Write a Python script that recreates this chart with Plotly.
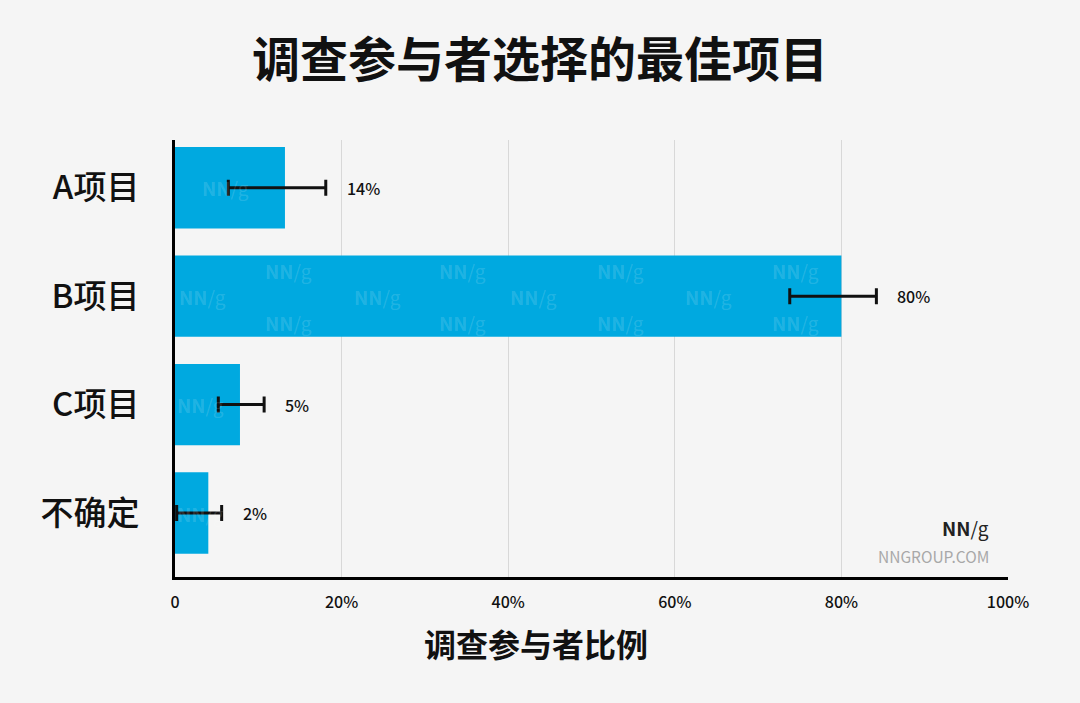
import plotly.graph_objects as go

# data
categories = ["A项目", "B项目", "C项目", "不确定"]
bar_values = [13.2, 80.0, 7.8, 4.0]
err_low = [6.4, 73.8, 5.2, 0.2]
err_high = [18.1, 84.2, 10.7, 5.6]
value_labels = ["14%", "80%", "5%", "2%"]

x_tickvals = [0, 20, 40, 60, 80, 100]
x_ticktext = ["0", "20%", "40%", "60%", "80%", "100%"]

title_text = "调查参与者选择的最佳项目"
x_title = "调查参与者比例"

BAR_COLOR = "#00a9e0"
BG = "#f5f5f5"
FONT = "Noto Sans CJK SC"
FONT_MED = "Noto Sans CJK SC Medium, Noto Sans CJK SC"

err_plus = [h - v for h, v in zip(err_high, bar_values)]
err_minus = [v - l for v, l in zip(bar_values, err_low)]

fig = go.Figure()
fig.add_trace(go.Bar(
    x=bar_values,
    y=categories,
    orientation="h",
    width=0.75,
    marker=dict(color=BAR_COLOR, line=dict(width=0)),
    error_x=dict(type="data", symmetric=False, array=err_plus,
                 arrayminus=err_minus, color="#111111",
                 thickness=3, width=8),
    hoverinfo="skip",
))

# percentage labels to the right of the error bars
for cat, hi, lab in zip(categories, err_high, value_labels):
    fig.add_annotation(x=hi, y=cat, text=lab, showarrow=False,
                       xanchor="left", xshift=19,
                       font=dict(family=FONT_MED, size=16, color="#111111"))

# faint NN/g watermarks inside the bars
wm_font = dict(family=FONT, size=19, color="rgba(255,255,255,0.15)")
wm_spots = [(3.0, 0, 0)]
for xs in [10.6, 31.5, 50.4, 71.4]:
    wm_spots += [(xs, 1, -0.24), (xs, 1, 0.24)]
for xs in [0.2, 21.2, 40.0, 61.0]:
    wm_spots.append((xs, 1, 0))
wm_spots += [(0.0, 2, 0), (0.0, 3, 0)]
for xs, ci, dy in wm_spots:
    fig.add_annotation(x=xs, y=ci + dy, text="<b>NN</b>/g", showarrow=False,
                       xanchor="left", font=wm_font)

# logo in the bottom right corner
fig.add_annotation(xref="paper", yref="paper", x=0.98, y=0.113,
                   text="<b>NN</b>/g", showarrow=False, xanchor="right",
                   yanchor="middle",
                   font=dict(family=FONT, size=19, color="#222222"))
fig.add_annotation(xref="paper", yref="paper", x=0.98, y=0.049,
                   text="NNGROUP.COM", showarrow=False, xanchor="right",
                   yanchor="middle",
                   font=dict(family=FONT, size=15.5, color="#a8a8a8"))

# axis title, centred on the page rather than on the plot
fig.add_annotation(xref="paper", yref="paper", x=(536 - 175) / 833,
                   y=-0.151, text="<b>" + x_title + "</b>", showarrow=False,
                   xanchor="center", yanchor="middle",
                   font=dict(family=FONT, size=32, color="#111111"))

fig.update_layout(
    width=1080, height=703,
    paper_bgcolor=BG, plot_bgcolor=BG,
    margin=dict(l=175, r=72, t=140, b=126),
    showlegend=False,
    title=dict(text="<b>" + title_text + "</b>", x=0.5, xanchor="center",
               y=0.915, yanchor="middle",
               font=dict(family=FONT, size=48, color="#111111")),
    xaxis=dict(range=[0, 100], tickvals=x_tickvals, ticktext=x_ticktext,
               showgrid=True, gridcolor="#d8d8d8", gridwidth=1,
               zeroline=False, showline=True, linecolor="#000000",
               linewidth=3, ticks="", ticklabelstandoff=9,
               tickfont=dict(family=FONT_MED, size=16, color="#111111"),
               fixedrange=True),
    yaxis=dict(categoryorder="array", categoryarray=categories,
               range=[3.59, -0.44], showgrid=False, zeroline=False,
               showline=True, linecolor="#000000", linewidth=3,
               ticks="", ticklabelstandoff=26,
               tickfont=dict(family=FONT_MED, size=33, color="#111111"),
               fixedrange=True),
)

fig.write_html("out.html", config={"displayModeBar": False},
               post_script="document.body.style.margin='0';")
